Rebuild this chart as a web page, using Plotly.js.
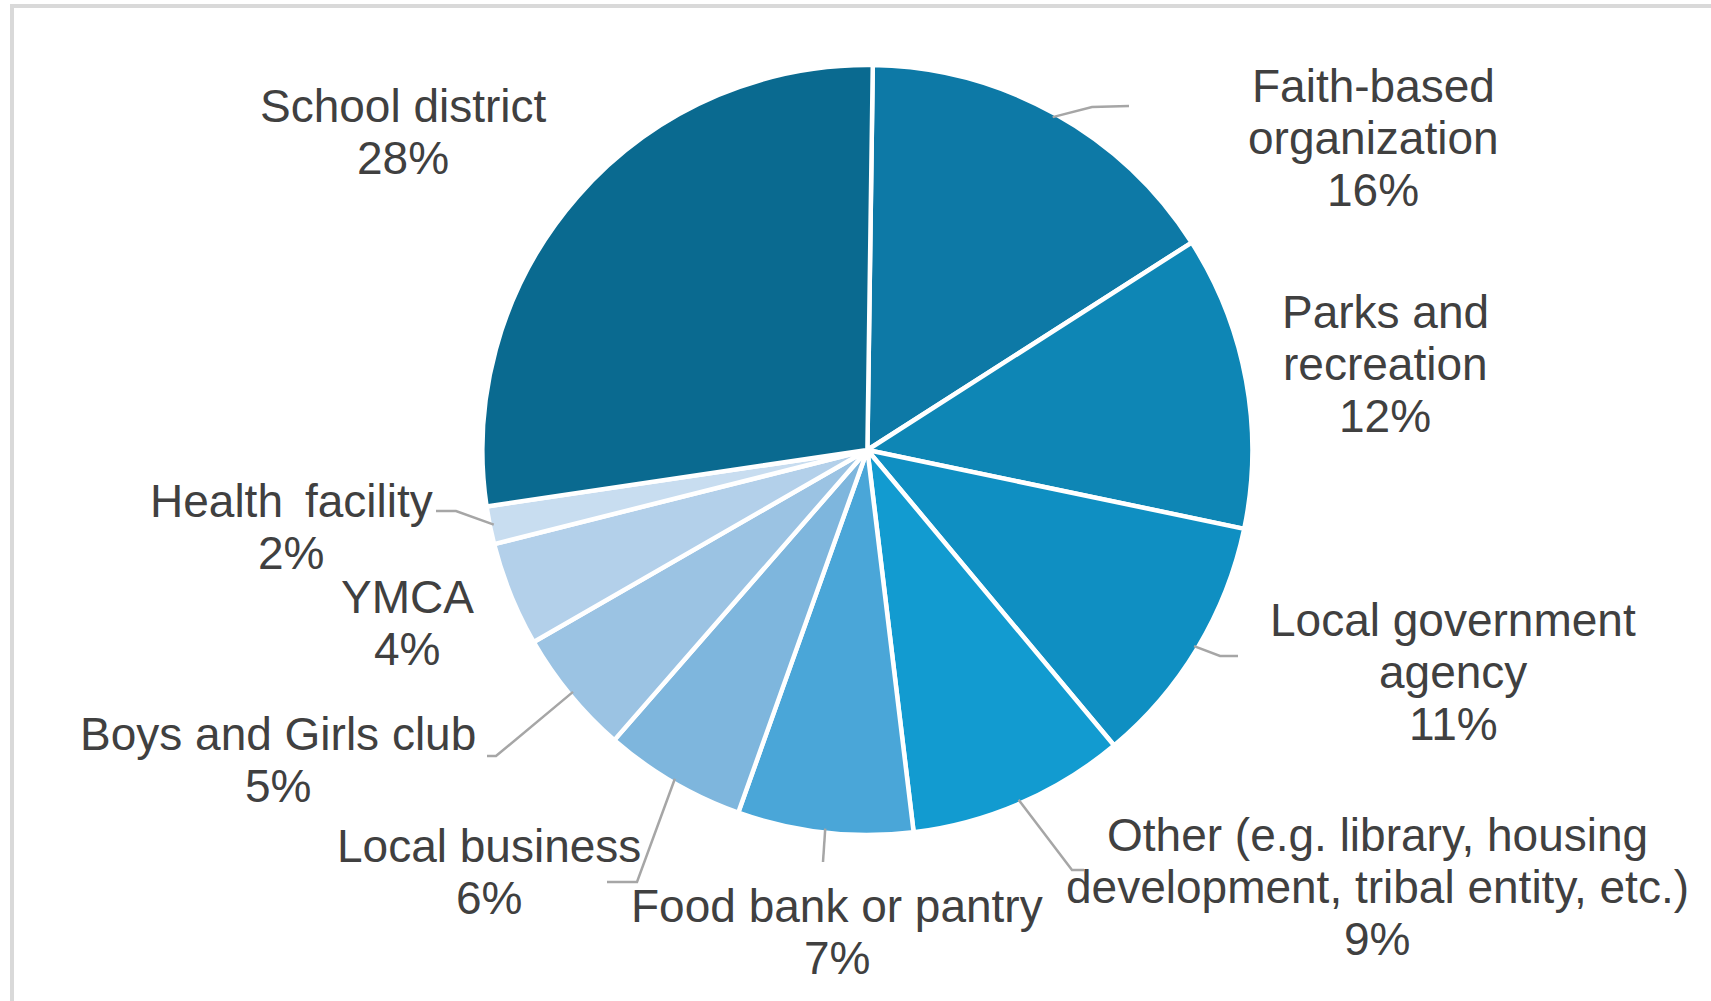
<!DOCTYPE html>
<html>
<head>
<meta charset="utf-8">
<script src="https://cdn.plot.ly/plotly-3.0.1.min.js"></script>
<style>html,body{margin:0;padding:0;background:#fff;}#chart{width:1711px;height:1001px;}</style>
</head>
<body>
<div id="chart"></div>
<script>
// ---- data (labels show rounded shares) ----
const categories = ['Faith-based organization', 'Parks and recreation', 'Local government agency',
  'Other (e.g. library, housing development, tribal entity, etc.)', 'Food bank or pantry',
  'Local business', 'Boys and Girls club', 'YMCA', 'Health facility', 'School district'];
const values = [15.8, 12.4, 10.7, 9.2, 7.4, 6.0, 5.3, 4.4, 1.6, 27.7];
const labelLines = [
  ['Faith-based', 'organization'],
  ['Parks and', 'recreation'],
  ['Local government', 'agency'],
  ['Other (e.g. library, housing', 'development, tribal entity, etc.)'],
  ['Food bank or pantry'],
  ['Local business'],
  ['Boys and Girls club'],
  ['YMCA'],
  ['Health \u2009facility'],
  ['School district']
];
const colors = ['#0d79a6', '#0e86b5', '#0f8fc2', '#129bd0', '#4aa6d8',
  '#7eb6dd', '#9bc3e3', '#b3d0ea', '#c8ddf0', '#0a6a90'];

// ---- layout / style ----
const W = 1711, H = 1001;
const CX = 867.4, CY = 450, R = 381;
const ROT = 0.8;
const FONT = {family: 'Liberation Sans, Arial, sans-serif', size: 46, color: '#404040'};
const LINE_GAP = 52;
// label anchor (center x, first line center y), pixels
const labelPos = [
  [1373, 86], [1385, 312], [1453, 620], [1377, 835], [837, 906],
  [489, 846], [278, 734], [407, 597], [291, 501], [403, 106]
];
// leader line bends (pixels), null = no leader
const leaders = [
  [[1092, 107], [1129, 106]],
  null,
  [[1220, 656], [1238, 656]],
  [[1072, 870], [1084, 870]],
  [[823, 862]],
  [[637, 882], [607, 882]],
  [[496, 756], [487, 756]],
  null,
  [[456, 511], [436, 511]],
  null
];

const px = x => x / W;
const py = y => 1 - y / H;

const total = values.reduce((a, b) => a + b, 0);
const annotations = [];
const shapes = [];

let cum = 0;
values.forEach((v, i) => {
  const mid = (cum + v / 2) / total * 2 * Math.PI + ROT * Math.PI / 180;
  cum += v;
  const lines = labelLines[i].concat([Math.round(v / total * 100) + '%']);
  const [lx, ly] = labelPos[i];
  lines.forEach((t, k) => {
    annotations.push({
      xref: 'paper', yref: 'paper', x: px(lx), y: py(ly + k * LINE_GAP),
      xanchor: 'center', yanchor: 'middle', text: t, showarrow: false, font: FONT
    });
  });
  if (leaders[i]) {
    const sx = CX + R * Math.sin(mid), sy = CY - R * Math.cos(mid);
    let d = 'M ' + px(sx) + ' ' + py(sy);
    leaders[i].forEach(p => { d += ' L ' + px(p[0]) + ' ' + py(p[1]); });
    shapes.push({type: 'path', xref: 'paper', yref: 'paper', path: d,
      line: {color: '#a6a6a6', width: 2.5}, layer: 'above'});
  }
});

// outer frame
shapes.push({type: 'rect', xref: 'paper', yref: 'paper',
  x0: px(12), x1: 1.05, y0: -0.05, y1: py(6),
  line: {color: '#d9d9d9', width: 4}, layer: 'below'});

const RD = R + 4;
const trace = {
  type: 'pie',
  labels: categories,
  values: values,
  sort: false,
  direction: 'clockwise',
  rotation: ROT,
  textinfo: 'none',
  hoverinfo: 'label+percent',
  marker: {colors: colors, line: {color: '#ffffff', width: 4.5}},
  domain: {x: [px(CX - RD), px(CX + RD)], y: [py(CY + RD), py(CY - RD)]}
};

Plotly.newPlot('chart', [trace], {
  width: W, height: H,
  margin: {l: 0, r: 0, t: 0, b: 0},
  paper_bgcolor: '#ffffff',
  showlegend: false,
  annotations: annotations,
  shapes: shapes
}, {displayModeBar: false, staticPlot: true});
</script>
</body>
</html>
